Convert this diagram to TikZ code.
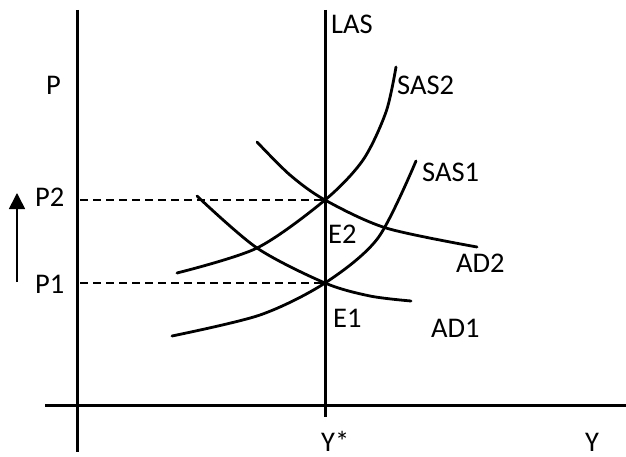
\documentclass[tikz,border=0pt]{standalone}
\usepackage{fontspec}
\setmainfont{Carlito}
\usetikzlibrary{arrows.meta}
\begin{document}
\begin{tikzpicture}[x=1pt,y=-1pt,
  axis/.style={line width=3pt},
  curve/.style={line width=2.8pt, line cap=round},
  guide/.style={line width=1.7pt, dash pattern=on 8pt off 5pt},
  lbl/.style={anchor=base west, inner sep=0pt, font=\fontsize{28.5}{30}\selectfont}]
\useasboundingbox (0,0) rectangle (626,457);
% axes
\coordinate (ytop) at (77,10);
\coordinate (ybot) at (77,452);
\coordinate (xl) at (45,405);
\coordinate (xr) at (626,405);
\draw[axis] (ytop) -- (ybot);
\draw[axis] (xl) -- (xr);
% LAS
\coordinate (lastop) at (325,10);
\coordinate (lasbot) at (325,417);
\draw[axis] (lastop) -- (lasbot);
% equilibria
\coordinate (E2) at (325,200);
\coordinate (E1) at (325,283);
\coordinate (p2) at (80,200);
\coordinate (p1) at (80,283);
\draw[guide] (p2) -- (E2);
\draw[guide] (p1) -- (E1);
% curves
\draw[curve] plot[smooth] coordinates {(177,273) (257,248) (325,200) (363,160) (386,112) (396,67)};
\draw[curve] plot[smooth] coordinates {(172,336) (260,315) (325,283) (378,238) (416,161)};
\draw[curve] plot[smooth] coordinates {(257,142) (290,175) (325,200) (386,228) (477,247)};
\draw[curve] plot[smooth] coordinates {(197,196) (257,248) (325,283) (370,296) (411,301)};
% arrow
\coordinate (ab) at (17,282);
\coordinate (at) at (17,193);
\draw[line width=1.6pt, -{Triangle[width=16pt,length=16pt]}] (ab) -- (at);
% labels
\node[lbl] (P) at (46,95) {P};
\node[lbl] (P2) at (35,207) {P2};
\node[lbl] (P1) at (35,293) {P1};
\node[lbl] (LAS) at (331,34) {LAS};
\node[lbl] (SAS2) at (397,95) {SAS2};
\node[lbl] (SAS1) at (422,182) {SAS1};
\node[lbl] (E2l) at (328,243) {E2};
\node[lbl] (E1l) at (333,327) {E1};
\node[lbl] (AD2) at (456,272) {AD2};
\node[lbl] (AD1) at (431,337) {AD1};
\node[lbl] (Ys) at (321,451) {Y*};
\node[lbl] (Y) at (585,451) {Y};
\end{tikzpicture}
\end{document}
